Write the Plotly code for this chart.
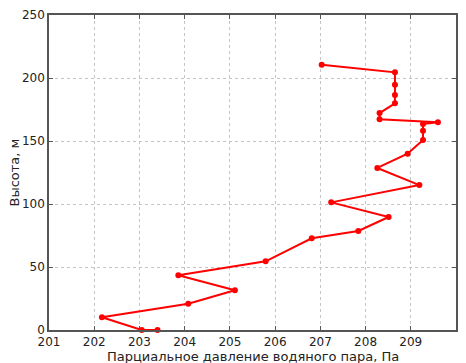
import plotly.graph_objects as go

# Partial pressure of water vapour (Pa) against height (m)
pressure = [203.40, 203.05, 202.17, 204.08, 205.11, 203.86, 205.79, 206.81,
            207.84, 208.51, 207.24, 209.19, 208.26, 208.93, 209.27, 209.27,
            209.27, 209.60, 208.31, 208.31, 208.65, 208.65, 208.65, 208.65,
            207.03]
height = [0.0, 0.0, 10.1, 20.9, 31.5, 43.4, 54.5, 72.8,
          78.6, 89.7, 101.3, 115.0, 128.6, 139.9, 150.8, 158.2,
          163.5, 164.8, 167.2, 172.2, 179.9, 186.5, 194.7, 204.5,
          210.6]

x_ticks = [201, 202, 203, 204, 205, 206, 207, 208, 209, 210]
y_ticks = [0, 50, 100, 150, 200, 250]

fig = go.Figure()
fig.add_trace(go.Scatter(
    x=pressure, y=height, mode="lines+markers",
    line=dict(color="#ff0000", width=2),
    marker=dict(color="#ff0000", size=6, symbol="circle"),
    cliponaxis=False,
))

axis_common = dict(
    showline=True, linecolor="#555555", linewidth=1.5, mirror="ticks",
    ticks="inside", ticklen=4, tickcolor="#555555", tickwidth=1,
    showgrid=True, gridcolor="#c4c4c4", griddash="dot", gridwidth=1,
    zeroline=False, automargin=False,
    tickfont=dict(family="DejaVu Sans", size=12, color="#222222"),
)

fig.update_xaxes(range=[201, 210], tickvals=x_ticks,
                 ticktext=[str(v) for v in x_ticks], **axis_common)
fig.update_yaxes(range=[0, 250], tickvals=y_ticks,
                 ticktext=[str(v) for v in y_ticks], **axis_common)

title_font = dict(family="DejaVu Sans", size=13, color="#222222")
fig.add_annotation(text="Парциальное давление водяного пара, Па",
                   xref="paper", yref="paper", x=0.5, y=0,
                   yshift=-26, yanchor="middle", showarrow=False,
                   font=title_font)
fig.add_annotation(text="Высота, м", textangle=-90,
                   xref="paper", yref="paper", x=0, y=0.5,
                   xshift=-35, xanchor="center", showarrow=False,
                   font=title_font)

fig.update_layout(
    width=466, height=363,
    margin=dict(l=49, r=10, t=15, b=33),
    paper_bgcolor="white", plot_bgcolor="white",
    showlegend=False,
)

fig.write_html("out.html")
